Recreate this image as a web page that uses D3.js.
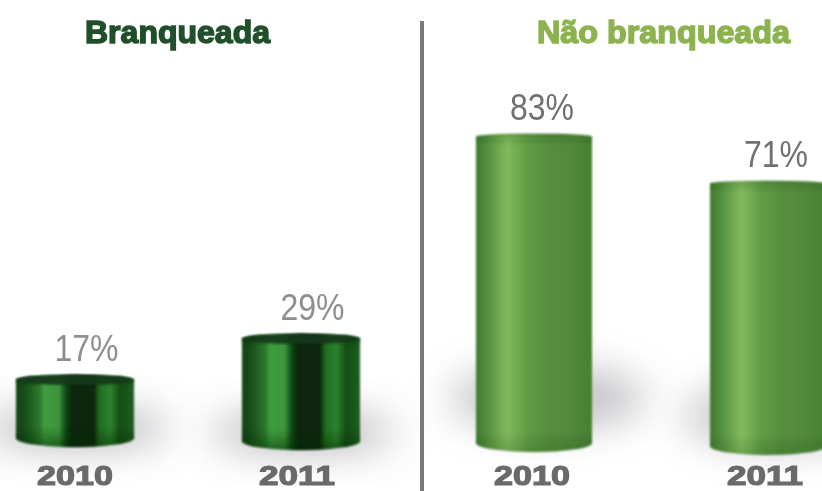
<!DOCTYPE html>
<html><head><meta charset="utf-8">
<script src="https://cdn.jsdelivr.net/npm/d3@7/dist/d3.min.js"></script>
<style>html,body{margin:0;padding:0;background:#fff}svg{display:block}</style>
</head><body><svg id="c" width="822" height="491"></svg>
<script>
const years = ["2010", "2011"];
const branqueada = [17, 29];
const naoBranqueada = [83, 71];
const titles = ["Branqueada", "Não branqueada"];

const W = 822, H = 491;
const svg = d3.select("#c").attr("viewBox", [0, 0, W, H]);
const defs = svg.append("defs");

function grad(id, stops) {
  const g = defs.append("linearGradient").attr("id", id).attr("x1", 0).attr("x2", 1).attr("y1", 0).attr("y2", 0);
  stops.forEach(([o, c]) => g.append("stop").attr("offset", o).attr("stop-color", c));
}
grad("dark", [[0, "#123f14"], [.1, "#1c561c"], [.2, "#2c7a2d"], [.24, "#3f9c3e"], [.36, "#3c963b"], [.42, "#134a14"], [.47, "#0b280b"], [.66, "#0b260b"], [.71, "#1f6e20"], [.8, "#2d832e"], [.88, "#164e16"], [1, "#1c5f1c"]]);
grad("light", [[0, "#3f7a30"], [.1, "#55923f"], [.27, "#84b95e"], [.45, "#5f9c45"], [.62, "#578f3e"], [.88, "#4f8739"], [1, "#44802f"]]);
defs.append("filter").attr("id", "shadow").attr("x", "-50%").attr("y", "-100%").attr("width", "200%").attr("height", "300%")
  .append("feGaussianBlur").attr("stdDeviation", 20);
defs.append("filter").attr("id", "soft").append("feGaussianBlur").attr("stdDeviation", .8);
defs.append("filter").attr("id", "softer").append("feGaussianBlur").attr("stdDeviation", .45);

const panels = [
  { title: titles[0], values: branqueada, fill: "dark", titleColor: "#20502a", titleX: 85, titleLen: 185,
    cx: d3.scalePoint().domain(years).range([75, 301]),
    y: d3.scaleLinear().domain([0, 100]).range([433, 91]),
    base: 447, capTop: 5, capBottom: 9, width: 118, labelColor: "#8e8e8e", labelDx: 11.5, yearDx: [0, -4] },
  { title: titles[1], values: naoBranqueada, fill: "light", titleColor: "#8cb34f", titleX: 537, titleLen: 253,
    cx: d3.scalePoint().domain(years).range([534, 768]),
    y: d3.scaleLinear().domain([0, 100]).range([459, 67]),
    base: 452, capTop: 3, capBottom: 9, width: 116, labelColor: "#6f6f6f", labelDx: 8, yearDx: [-2, -3] }
];

// soft floor shadows, behind everything
const shadowG = svg.append("g");
panels.forEach((p, pi) => {
  p.values.forEach((v, i) => {
    shadowG.append("ellipse")
      .attr("cx", p.cx(years[i]) + (pi ? 14 : 2))
      .attr("cy", pi ? 398 + i * 18 : 428 + i * 4)
      .attr("rx", p.width / 2 + (pi ? 40 : 34))
      .attr("ry", pi ? 30 : 18)
      .attr("fill", "#8d8d95")
      .attr("opacity", pi ? .55 : .68)
      .attr("filter", "url(#shadow)");
  });
});

// divider
svg.append("rect").attr("x", 420).attr("width", 4).attr("y", 21).attr("height", H - 21)
  .attr("fill", "#77797b").attr("filter", "url(#softer)");

panels.forEach(p => {
  const g = svg.append("g");
  g.append("text").text(p.title)
    .attr("x", p.titleX).attr("y", 43)
    .attr("textLength", p.titleLen).attr("lengthAdjust", "spacingAndGlyphs")
    .attr("font-family", "'Liberation Sans',sans-serif")
    .attr("font-weight", 700).attr("font-size", 32)
    .attr("fill", p.titleColor).attr("stroke", p.titleColor).attr("stroke-width", 1.5)
    .attr("filter", "url(#softer)");

  const bars = g.selectAll("g.bar").data(years.map((yr, i) => ({ yr, v: p.values[i], i }))).join("g");
  bars.each(function (d) {
    const s = d3.select(this);
    const cx = p.cx(d.yr), hw = p.width / 2;
    const top = p.y(d.v), bot = p.base + d.i * 3;
    const shape = `M${cx - hw},${top + p.capTop}A${hw},${p.capTop} 0 0 1 ${cx + hw},${top + p.capTop}` +
      `L${cx + hw},${bot - p.capBottom}A${hw},${p.capBottom} 0 0 1 ${cx - hw},${bot - p.capBottom}Z`;
    s.append("path").attr("d", shape).attr("fill", `url(#${p.fill})`).attr("filter", "url(#soft)");

    // vertical shading: darker rim at top and at the bottom of the cylinder
    const vid = `v-${p.fill}-${d.i}`;
    const vg = defs.append("linearGradient").attr("id", vid).attr("gradientUnits", "userSpaceOnUse")
      .attr("x1", 0).attr("x2", 0).attr("y1", top).attr("y2", bot);
    const rimT = Math.min(.4, 12 / (bot - top)), rimB = 1 - Math.min(.4, 20 / (bot - top));
    const a = p.fill === "dark" ? .5 : .18;
    [[0, a], [rimT, 0], [rimB, 0], [1, a]].forEach(([o, op]) =>
      vg.append("stop").attr("offset", o).attr("stop-color", "#0d2a0d").attr("stop-opacity", op));
    s.append("path").attr("d", shape).attr("fill", `url(#${vid})`).attr("filter", "url(#soft)");

    if (p.fill === "dark") {
      s.append("ellipse").attr("cx", cx).attr("cy", top + p.capTop).attr("rx", hw).attr("ry", p.capTop)
        .attr("fill", "#12381a").attr("opacity", .9).attr("filter", "url(#soft)");
    }
    s.append("text").text(d.v + "%")
      .attr("x", cx + p.labelDx).attr("y", top - 14).attr("text-anchor", "middle")
      .attr("textLength", 64).attr("lengthAdjust", "spacingAndGlyphs")
      .attr("font-family", "'Liberation Sans',sans-serif").attr("font-size", 36)
      .attr("fill", p.labelColor).attr("filter", "url(#softer)");
    s.append("text").text(d.yr)
      .attr("x", cx + p.yearDx[d.i]).attr("y", 485).attr("text-anchor", "middle")
      .attr("textLength", 76).attr("lengthAdjust", "spacingAndGlyphs")
      .attr("font-family", "'Liberation Sans',sans-serif").attr("font-weight", 700).attr("font-size", 28)
      .attr("fill", "#6a6a6c").attr("stroke", "#6a6a6c").attr("stroke-width", 1.2)
      .attr("filter", "url(#softer)");
  });
});
</script></body></html>
